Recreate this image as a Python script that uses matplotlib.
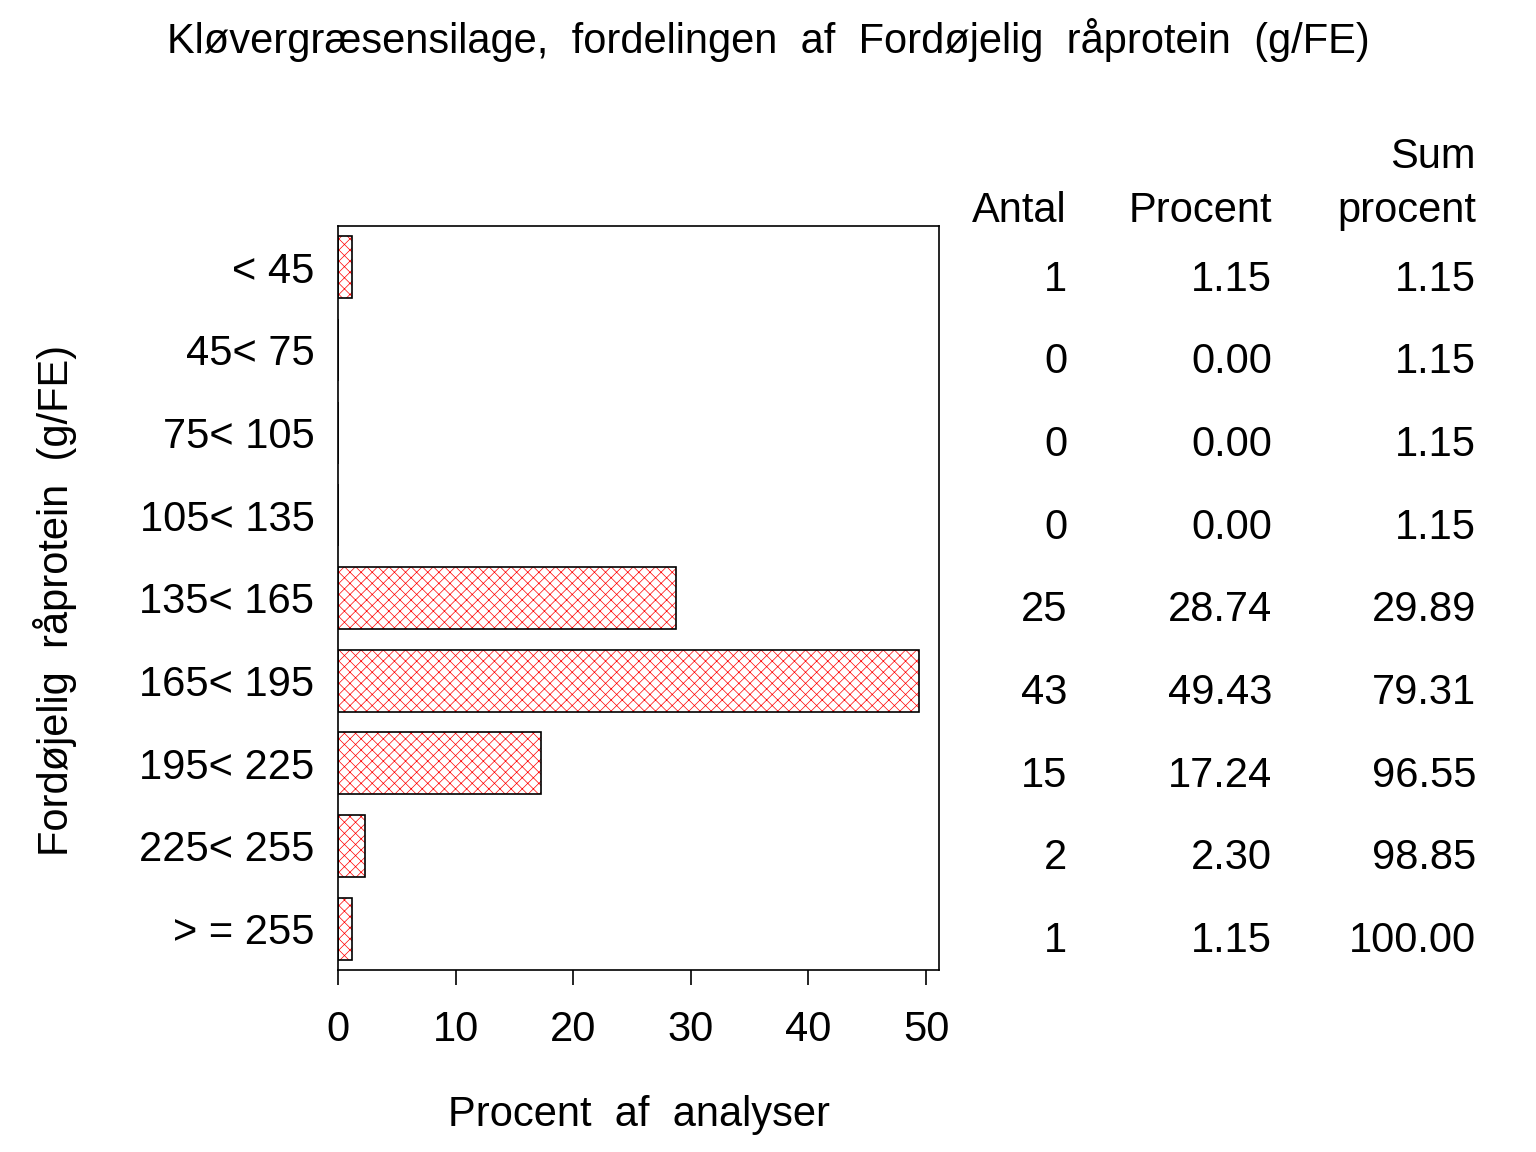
import matplotlib
matplotlib.use("Agg")
import matplotlib.pyplot as plt
import matplotlib.transforms as mtransforms

categories = ["< 45", "45< 75", "75< 105", "105< 135", "135< 165",
              "165< 195", "195< 225", "225< 255", "> = 255"]
antal = [1, 0, 0, 0, 25, 43, 15, 2, 1]
procent = [1.15, 0.00, 0.00, 0.00, 28.74, 49.43, 17.24, 2.30, 1.15]
sum_procent = [1.15, 1.15, 1.15, 1.15, 29.89, 79.31, 96.55, 98.85, 100.00]
xticks = [0, 10, 20, 30, 40, 50]

plt.rcParams['font.family'] = ['Liberation Sans', 'DejaVu Sans']
plt.rcParams['hatch.linewidth'] = 0.5
FS = 30

fig = plt.figure(figsize=(15.36, 11.52), dpi=100)
ax = fig.add_axes([338/1536, 1-970/1152, (939-338)/1536, (970-226)/1152])

ypos = list(range(len(categories)))
ax.barh(ypos, procent, height=0.75, color='white', edgecolor='red',
        hatch='xxx', linewidth=0)
ax.barh(ypos, procent, height=0.75, fill=False, edgecolor='black', linewidth=1.2)

ax.set_xlim(0, 51.1)
ax.set_ylim(len(categories) - 0.5, -0.5)
ax.set_yticks(ypos)
ax.set_yticklabels(categories, fontsize=FS)
ax.tick_params(axis='y', length=0, pad=17)
ax.set_xticks(xticks)
ax.set_xticklabels([str(t) for t in xticks], fontsize=FS)
ax.tick_params(axis='x', length=11, width=1.2, direction='out', pad=18)
for s in ax.spines.values():
    s.set_linewidth(1.2)

ax.set_xlabel("Procent  af  analyser", fontsize=FS, labelpad=32)
fig.text(55/1536, 1-600/1152, "Fordøjelig  råprotein  (g/FE)", fontsize=FS,
         rotation=90, ha='center', va='center')
fig.text(768/1536, 1-40/1152, "Kløvergræsensilage,  fordelingen  af  Fordøjelig  råprotein  (g/FE)",
         fontsize=FS, ha='center', va='center')

# table
cols_x = [1067/1536, 1272/1536, 1476/1536]
fig.text(cols_x[2], 1-157/1152, "Sum", fontsize=FS, ha='right', va='center')
for x, h in zip(cols_x, ["Antal", "Procent", "procent"]):
    fig.text(x, 1-211/1152, h, fontsize=FS, ha='right', va='center')

trans = mtransforms.blended_transform_factory(fig.transFigure, ax.transData)
for i in ypos:
    vals = [str(antal[i]), f"{procent[i]:.2f}", f"{sum_procent[i]:.2f}"]
    for x, v in zip(cols_x, vals):
        ax.text(x, i + 0.15, v, transform=trans, fontsize=FS, ha='right',
                va='center', clip_on=False)

fig.savefig("out.png", dpi=100)
